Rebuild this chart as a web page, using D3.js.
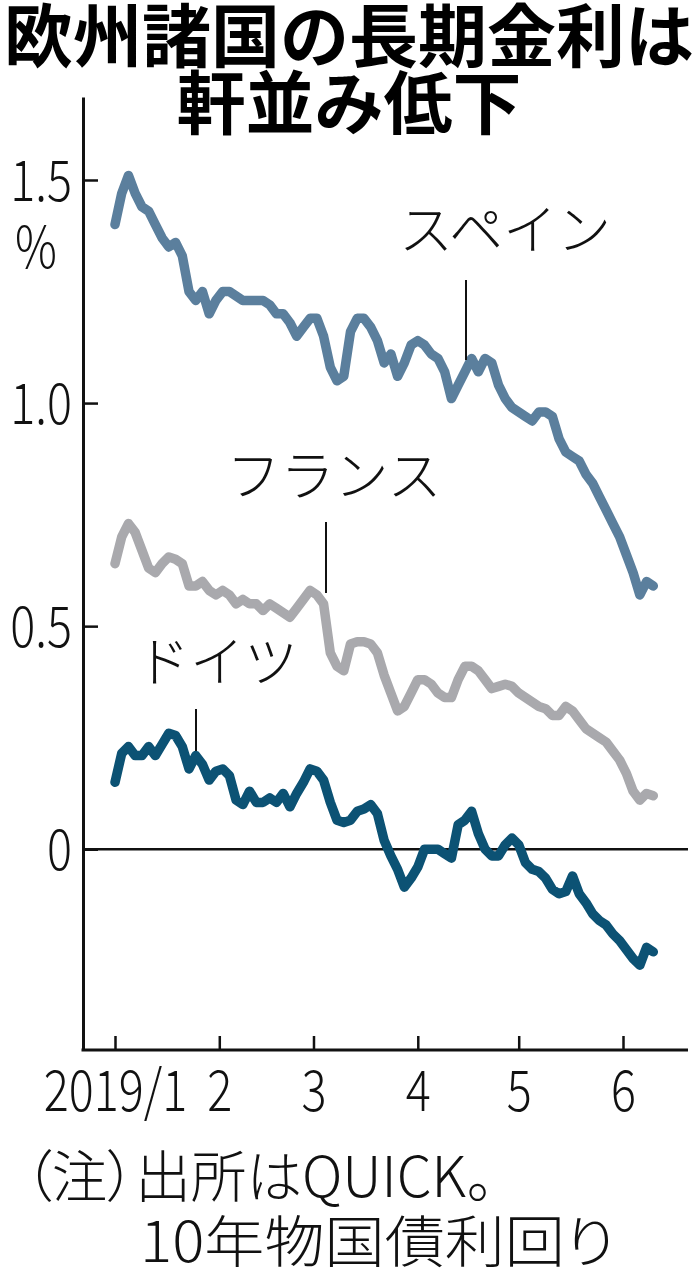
<!DOCTYPE html>
<html>
<head>
<meta charset="utf-8">
<script src="https://cdn.jsdelivr.net/npm/d3@7"></script>
<style>
body{margin:0;background:#fff;}
svg{display:block;}
</style>
</head>
<body>
<div id="vis1"></div>
<script>
// dates of the samples (2019, every other day)
var dates = ["1/1","1/3","1/5","1/7","1/9","1/11","1/13","1/15","1/17","1/19","1/21","1/23","1/25","1/27","1/29","1/31",
    "2/2","2/4","2/6","2/8","2/10","2/12","2/14","2/16","2/18","2/20","2/22","2/24","2/26","2/28",
    "3/2","3/4","3/6","3/8","3/10","3/12","3/14","3/16","3/18","3/20","3/22","3/24","3/26","3/28","3/30",
    "4/1","4/3","4/5","4/7","4/9","4/11","4/13","4/15","4/17","4/19","4/21","4/23","4/25","4/27","4/29",
    "5/1","5/3","5/5","5/7","5/9","5/11","5/13","5/15","5/17","5/19","5/21","5/23","5/25","5/27","5/29","5/31",
    "6/2","6/4","6/6","6/8","6/10"];
// 10 year yields, %
var spain = [1.40,1.47,1.51,1.47,1.44,1.43,1.40,1.37,1.35,1.36,1.33,1.25,1.23,1.25,1.20,1.23,
    1.25,1.25,1.24,1.23,1.23,1.23,1.23,1.22,1.20,1.20,1.18,1.15,1.17,1.19,
    1.19,1.15,1.08,1.05,1.06,1.16,1.19,1.19,1.17,1.14,1.09,1.11,1.06,1.09,1.13,
    1.14,1.13,1.11,1.10,1.07,1.01,1.04,1.07,1.10,1.07,1.10,1.09,1.04,1.01,0.99,
    0.98,0.97,0.96,0.98,0.98,0.97,0.92,0.89,0.88,0.87,0.84,0.82,0.79,0.76,0.73,0.70,
    0.66,0.62,0.57,0.60,0.59];
var france = [0.64,0.70,0.73,0.71,0.67,0.63,0.62,0.64,0.655,0.65,0.64,0.59,0.59,0.60,0.58,0.57,
    0.58,0.57,0.55,0.56,0.55,0.55,0.535,0.55,0.54,0.53,0.52,0.54,0.56,0.58,
    0.57,0.55,0.44,0.41,0.40,0.46,0.465,0.465,0.46,0.44,0.39,0.35,0.31,0.32,0.35,
    0.38,0.38,0.37,0.35,0.34,0.34,0.38,0.41,0.41,0.40,0.38,0.36,0.365,0.37,0.365,
    0.35,0.34,0.33,0.32,0.315,0.30,0.30,0.32,0.31,0.29,0.27,0.26,0.25,0.24,0.22,0.20,
    0.17,0.13,0.11,0.125,0.12];
var germany = [0.15,0.215,0.23,0.21,0.21,0.23,0.21,0.235,0.26,0.255,0.23,0.18,0.21,0.19,0.155,0.175,
    0.18,0.165,0.11,0.10,0.13,0.105,0.105,0.115,0.105,0.125,0.095,0.125,0.15,0.18,
    0.175,0.155,0.105,0.065,0.06,0.065,0.085,0.09,0.10,0.08,0.02,-0.015,-0.045,-0.085,-0.065,
    -0.04,0.0,0.0,0.0,-0.01,-0.02,0.055,0.065,0.085,0.035,0.0,-0.015,-0.015,0.01,0.025,
    0.01,-0.03,-0.045,-0.05,-0.065,-0.09,-0.10,-0.095,-0.06,-0.10,-0.12,-0.145,-0.16,-0.17,-0.19,-0.205,
    -0.225,-0.245,-0.26,-0.22,-0.23];
var names = ["スペイン","フランス","ドイツ"];
var colours = ["#5b7f9d","#a9a9ad","#0c5274"];
var yTicks = [0, 0.5, 1.0, 1.5];
var months = ["1/1","2/1","3/1","4/1","5/1","6/1"];

var parse = d3.utcParse("%Y/%m/%d");
function toDate(s){return parse("2019/" + s);}

// basic structure
var svg = d3.select("#vis1").append("svg").attr("width", 698).attr("height", 1280);

// plot edges (don't call these top/bottom, window.top is read only)
var plotL = 83, plotR = 688, plotT = 97, plotB = 1050;
var x = d3.scaleUtc().domain([toDate("1/1"), toDate("6/1")]).range([115, 623]);
var y = d3.scaleLinear().domain([-0.45, 1.686]).range([plotB, plotT]);

// title
var titleFont = "font-family:'Noto Sans CJK JP';font-weight:700;font-size:69px;text-anchor:middle;fill:#000;";
svg.append("text").text("欧州諸国の長期金利は").attr("x", 349).attr("y", 62).attr("style", titleFont);
svg.append("text").text("軒並み低下").attr("x", 349).attr("y", 129).attr("style", titleFont);

// numbers are a narrow face in the original, so squeeze them sideways
var squeeze = 0.82;
var numFont = "font-family:'Noto Sans CJK JP';font-weight:300;font-size:57px;fill:#111;";

// y axis
var yAxis = d3.axisLeft(y).tickValues(yTicks).tickSizeInner(-15).tickSizeOuter(0).tickPadding(11)
    .tickFormat((d) => d == 0 ? "0" : d3.format(".1f")(d));
var gy = svg.append("g").attr("transform", "translate(" + plotL + ",0)").call(yAxis);
gy.selectAll("text").attr("style", numFont).attr("dy", "0.36em")
    .attr("x", -11 / squeeze).attr("transform", "scale(" + squeeze + ",1)");
gy.selectAll("line").attr("stroke", "#111").attr("stroke-width", 2.5);
gy.select(".domain").attr("stroke", "#111").attr("stroke-width", 3);
svg.append("text").text("%").attr("x", 36 / squeeze).attr("y", 268)
    .attr("transform", "scale(" + squeeze + ",1)").attr("style", numFont + "text-anchor:middle;");

// x axis
var xAxis = d3.axisBottom(x).tickValues(months.map(toDate)).tickSizeInner(-14).tickSizeOuter(0).tickPadding(21)
    .tickFormat((d, i) => i == 0 ? "2019/1" : String(d.getUTCMonth() + 1));
var gx = svg.append("g").attr("transform", "translate(0," + plotB + ")").call(xAxis);
gx.select(".domain").remove();
gx.selectAll("text").attr("style", numFont).attr("transform", "scale(" + squeeze + ",1)");
gx.selectAll("line").attr("stroke", "#111").attr("stroke-width", 2.5);
svg.append("line").attr("x1", plotL - 1.5).attr("x2", plotR).attr("y1", plotB).attr("y2", plotB)
    .attr("stroke", "#111").attr("stroke-width", 3);

// zero line
svg.append("line").attr("x1", plotL).attr("x2", plotR).attr("y1", y(0)).attr("y2", y(0))
    .attr("stroke", "#111").attr("stroke-width", 2.5);

// the three series
var series = [spain, france, germany];
var line = d3.line().x((d, i) => x(toDate(dates[i]))).y((d) => y(d));
for(i in series){
    svg.append("path").datum(series[i]).attr("d", line)
        .attr("fill", "none").attr("stroke", colours[i]).attr("stroke-width", 9.5)
        .attr("stroke-linejoin", "round").attr("stroke-linecap", "round");}

// labels with their little leader lines
var labelFont = "font-family:'Noto Sans CJK JP';font-weight:300;font-size:54px;fill:#111;text-anchor:middle;";
var labels = [[505, 250, 466, 280, 360], [334, 496, 326, 522, 593], [217, 682, 196, 709, 751]];
for(i in labels){
    let l = labels[i];
    svg.append("text").text(names[i]).attr("x", l[0]).attr("y", l[1]).attr("style", labelFont);
    svg.append("line").attr("x1", l[2]).attr("x2", l[2]).attr("y1", l[3]).attr("y2", l[4])
        .attr("stroke", "#111").attr("stroke-width", 2);}

// footnote
var noteFont = "font-family:'Noto Sans CJK JP';font-weight:300;font-size:56px;fill:#111;font-feature-settings:'palt';";
svg.append("text").text("（注）出所はQUICK。").attr("x", 24).attr("y", 1197).attr("style", noteFont)
    .attr("textLength", 470).attr("lengthAdjust", "spacingAndGlyphs");
svg.append("text").text("10年物国債利回り").attr("x", 140).attr("y", 1262).attr("style", noteFont)
    .attr("textLength", 475).attr("lengthAdjust", "spacingAndGlyphs");
</script>
</body>
</html>
